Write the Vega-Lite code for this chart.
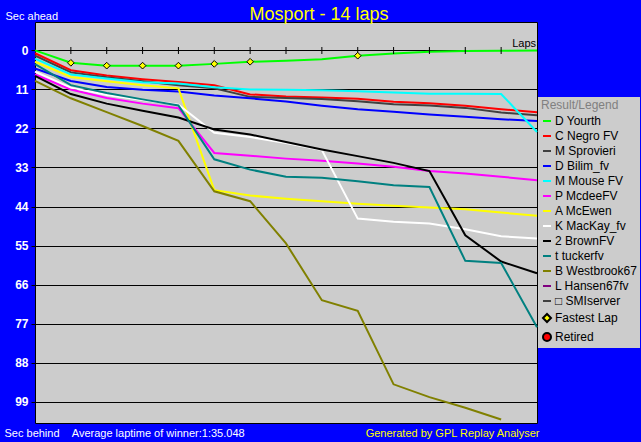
{
  "$schema": "https://vega.github.io/schema/vega-lite/v6.json",
  "width": 502,
  "height": 401,
  "autosize": {"type": "none"},
  "padding": {"left": 35, "top": 22, "right": 104, "bottom": 19},
  "background": "#0000FF",
  "title": {"text": "Mosport - 14 laps", "frame": "group", "anchor": "middle", "dx": 33, "dy": 30, "offset": 2, "baseline": "alphabetic", "color": "#FFFF00", "font": "Liberation Sans", "fontSize": 18, "fontWeight": "normal"},
  "config": {"view": {"fill": "#CCCCCC", "stroke": "#000000", "strokeWidth": 1}, "font": "Liberation Sans"},
  "datasets": {
    "race": [
      {"lap": 0, "D Yourth": 0, "C Negro FV": 0.8, "M Sprovieri": 1.5, "D Bilim_fv": 5.1, "M Mouse FV": 2.3, "P McdeeFV": 6.8, "A McEwen": 3.2, "K MacKay_fv": 6.0, "2 BrownFV": 7.2, "t tuckerfv": 3.9, "B Westbrook67": 8.6},
      {"lap": 1, "D Yourth": 3.5, "C Negro FV": 5.6, "M Sprovieri": 6.2, "D Bilim_fv": 8.6, "M Mouse FV": 6.8, "P McdeeFV": 11.0, "A McEwen": 7.5, "K MacKay_fv": 10.5, "2 BrownFV": 12.3, "t tuckerfv": 9.8, "B Westbrook67": 13.5},
      {"lap": 2, "D Yourth": 4.3, "C Negro FV": 7.1, "M Sprovieri": 7.6, "D Bilim_fv": 10.3, "M Mouse FV": 7.9, "P McdeeFV": 13.4, "A McEwen": 8.7, "K MacKay_fv": 12.6, "2 BrownFV": 15.0, "t tuckerfv": 12.0, "B Westbrook67": 17.4},
      {"lap": 3, "D Yourth": 4.3, "C Negro FV": 8.1, "M Sprovieri": 8.7, "D Bilim_fv": 11.1, "M Mouse FV": 9.0, "P McdeeFV": 15.0, "A McEwen": 9.8, "K MacKay_fv": 14.0, "2 BrownFV": 17.0, "t tuckerfv": 13.8, "B Westbrook67": 21.3},
      {"lap": 4, "D Yourth": 4.3, "C Negro FV": 8.9, "M Sprovieri": 9.8, "D Bilim_fv": 11.6, "M Mouse FV": 9.3, "P McdeeFV": 16.3, "A McEwen": 10.7, "K MacKay_fv": 15.3, "2 BrownFV": 18.9, "t tuckerfv": 15.5, "B Westbrook67": 25.5},
      {"lap": 5, "D Yourth": 3.8, "C Negro FV": 9.8, "M Sprovieri": 10.7, "D Bilim_fv": 12.7, "M Mouse FV": 10.4, "P McdeeFV": 28.9, "A McEwen": 39.4, "K MacKay_fv": 23.2, "2 BrownFV": 22.3, "t tuckerfv": 30.7, "B Westbrook67": 39.7},
      {"lap": 6, "D Yourth": 3.2, "C Negro FV": 12.4, "M Sprovieri": 13.1, "D Bilim_fv": 13.5, "M Mouse FV": 11.0, "P McdeeFV": 29.7, "A McEwen": 40.9, "K MacKay_fv": 24.4, "2 BrownFV": 23.7, "t tuckerfv": 33.6, "B Westbrook67": 42.5},
      {"lap": 7, "D Yourth": 2.9, "C Negro FV": 13.0, "M Sprovieri": 13.4, "D Bilim_fv": 14.4, "M Mouse FV": 11.1, "P McdeeFV": 30.5, "A McEwen": 41.8, "K MacKay_fv": 26.1, "2 BrownFV": 25.8, "t tuckerfv": 35.6, "B Westbrook67": 54.4},
      {"lap": 8, "D Yourth": 2.5, "C Negro FV": 13.3, "M Sprovieri": 13.7, "D Bilim_fv": 15.6, "M Mouse FV": 11.2, "P McdeeFV": 31.1, "A McEwen": 42.5, "K MacKay_fv": 28.1, "2 BrownFV": 27.9, "t tuckerfv": 35.9, "B Westbrook67": 70.4},
      {"lap": 9, "D Yourth": 1.5, "C Negro FV": 13.6, "M Sprovieri": 14.3, "D Bilim_fv": 16.6, "M Mouse FV": 11.5, "P McdeeFV": 31.9, "A McEwen": 43.2, "K MacKay_fv": 47.4, "2 BrownFV": 29.8, "t tuckerfv": 36.9, "B Westbrook67": 73.4},
      {"lap": 10, "D Yourth": 0.85, "C Negro FV": 14.5, "M Sprovieri": 15.2, "D Bilim_fv": 17.3, "M Mouse FV": 11.9, "P McdeeFV": 32.8, "A McEwen": 43.8, "K MacKay_fv": 48.3, "2 BrownFV": 31.7, "t tuckerfv": 38.0, "B Westbrook67": 94.1},
      {"lap": 11, "D Yourth": 0.4, "C Negro FV": 14.9, "M Sprovieri": 15.5, "D Bilim_fv": 18.1, "M Mouse FV": 12.2, "P McdeeFV": 34.0, "A McEwen": 44.3, "K MacKay_fv": 48.8, "2 BrownFV": 34.0, "t tuckerfv": 38.5, "B Westbrook67": 97.7},
      {"lap": 12, "D Yourth": 0.2, "C Negro FV": 15.6, "M Sprovieri": 16.2, "D Bilim_fv": 18.7, "M Mouse FV": 12.2, "P McdeeFV": 34.7, "A McEwen": 44.8, "K MacKay_fv": 50.4, "2 BrownFV": 52.1, "t tuckerfv": 59.3, "B Westbrook67": 100.7},
      {"lap": 13, "D Yourth": 0.1, "C Negro FV": 16.6, "M Sprovieri": 17.5, "D Bilim_fv": 19.4, "M Mouse FV": 12.3, "P McdeeFV": 35.6, "A McEwen": 45.7, "K MacKay_fv": 52.4, "2 BrownFV": 59.5, "t tuckerfv": 59.9, "B Westbrook67": 104.0},
      {"lap": 14, "D Yourth": 0, "C Negro FV": 17.4, "M Sprovieri": 18.3, "D Bilim_fv": 19.9, "M Mouse FV": 23.0, "P McdeeFV": 36.6, "A McEwen": 46.6, "K MacKay_fv": 53.0, "2 BrownFV": 62.8, "t tuckerfv": 78.0, "B Westbrook67": null}
    ],
    "ticks": [{"lap": 1, "sec": 0}, {"lap": 2, "sec": 0}, {"lap": 3, "sec": 0}, {"lap": 4, "sec": 0}, {"lap": 5, "sec": 0}, {"lap": 6, "sec": 0}, {"lap": 7, "sec": 0}, {"lap": 8, "sec": 0}, {"lap": 9, "sec": 0}, {"lap": 10, "sec": 0}, {"lap": 11, "sec": 0}, {"lap": 12, "sec": 0}, {"lap": 13, "sec": 0}],
    "fastest": [
      {"lap": 1, "sec": 3.5, "driver": "Fastest Lap"},
      {"lap": 2, "sec": 4.3, "driver": "Fastest Lap"},
      {"lap": 3, "sec": 4.3, "driver": "Fastest Lap"},
      {"lap": 4, "sec": 4.3, "driver": "Fastest Lap"},
      {"lap": 5, "sec": 3.8, "driver": "Fastest Lap"},
      {"lap": 6, "sec": 3.2, "driver": "Fastest Lap"},
      {"lap": 9, "sec": 1.5, "driver": "Fastest Lap"}
    ],
    "note": [{"lap": 14, "sec": 0, "label": "Laps"}]
  },
  "layer": [
    {
      "data": {"name": "race"},
      "transform": [{"fold": ["D Yourth", "C Negro FV", "M Sprovieri", "D Bilim_fv", "M Mouse FV", "P McdeeFV", "A McEwen", "K MacKay_fv", "2 BrownFV", "t tuckerfv", "B Westbrook67"], "as": ["driver", "sec"]}],
      "mark": {"type": "line", "strokeWidth": 2},
      "encoding": {
        "x": {"field": "lap", "type": "quantitative", "scale": {"domain": [0, 14], "nice": false, "zero": false},
          "axis": {"orient": "bottom", "labels": false, "ticks": false, "domain": false, "grid": false,
            "title": "Sec behind\u00a0\u00a0\u00a0\u00a0Average laptime of winner:1:35.048",
            "titleX": -31, "titleY": 13, "titleAlign": "left", "titleAnchor": "start", "titleBaseline": "alphabetic",
            "titleColor": "#FFFFFF", "titleFont": "Liberation Sans", "titleFontSize": 11, "titleFontWeight": "normal"}},
        "y": {"field": "sec", "type": "quantitative", "scale": {"domain": [-8, 105], "reverse": true, "nice": false, "zero": false},
          "axis": {"orient": "left", "values": [0, 11, 22, 33, 44, 55, 66, 77, 88, 99], "grid": true, "gridColor": "#000000", "gridWidth": 1, "gridOpacity": 1,
            "domain": false, "ticks": true, "tickColor": "#000000", "tickSize": 4, "tickWidth": 1,
            "labelColor": "#FFFFFF", "labelFont": "Liberation Sans", "labelFontSize": 12, "labelFontWeight": "bold", "labelPadding": 3,
            "title": "Sec ahead", "titleAngle": 0, "titleX": -30, "titleY": -3, "titleAlign": "left", "titleBaseline": "alphabetic",
            "titleColor": "#FFFFFF", "titleFont": "Liberation Sans", "titleFontSize": 11, "titleFontWeight": "normal"}},
        "color": {"field": "driver", "type": "nominal", "legend": null,
          "scale": {
            "domain": ["D Yourth", "C Negro FV", "M Sprovieri", "D Bilim_fv", "M Mouse FV", "P McdeeFV", "A McEwen", "K MacKay_fv", "2 BrownFV", "t tuckerfv", "B Westbrook67", "L Hansen67fv", "\u25a1 SMIserver"],
            "range": ["#00FF00", "#FF0000", "#404040", "#0000FF", "#00FFFF", "#FF00FF", "#FFFF00", "#FFFFFF", "#000000", "#008080", "#808000", "#800080", "#404040"]
          }
        }
      }
    },
    {
      "data": {"name": "ticks"},
      "mark": {"type": "tick", "orient": "vertical", "size": 7, "thickness": 1, "color": "#000000", "opacity": 1},
      "encoding": {
        "x": {"field": "lap", "type": "quantitative"},
        "y": {"field": "sec", "type": "quantitative",
          "axis": {"orient": "right", "labels": false, "ticks": false, "domain": false, "grid": false,
            "title": "Generated by GPL Replay Analyser", "titleAngle": 0, "titleX": 2, "titleY": 414, "titleAlign": "right", "titleBaseline": "alphabetic",
            "titleColor": "#FFFF00", "titleFont": "Liberation Sans", "titleFontSize": 11, "titleFontWeight": "normal"}}
      }
    },
    {
      "data": {"name": "fastest"},
      "mark": {"type": "point", "filled": true, "size": 45, "strokeWidth": 1, "opacity": 1},
      "encoding": {
        "x": {"field": "lap", "type": "quantitative"},
        "y": {"field": "sec", "type": "quantitative", "axis": null},
        "fill": {"field": "driver", "type": "nominal",
          "scale": {
            "domain": ["D Yourth", "C Negro FV", "M Sprovieri", "D Bilim_fv", "M Mouse FV", "P McdeeFV", "A McEwen", "K MacKay_fv", "2 BrownFV", "t tuckerfv", "B Westbrook67", "L Hansen67fv", "\u25a1 SMIserver", "Fastest Lap", "Retired"],
            "range": ["#00FF00", "#FF0000", "#404040", "#0000FF", "#00FFFF", "#FF00FF", "#FFFF00", "#FFFFFF", "#000000", "#008080", "#808000", "#800080", "#404040", "#FFFF00", "#FF0000"]
          },
          "legend": {
            "title": "Result/Legend", "orient": "none", "legendX": 503, "legendY": 75,
            "fillColor": "#CCCCCC", "padding": 3,
            "titleColor": "#808080", "titleFont": "Liberation Sans", "titleFontSize": 12, "titleFontWeight": "normal", "titlePadding": 3,
            "labelColor": "#000000", "labelFont": "Liberation Sans", "labelFontSize": 12, "labelOffset": 2, "labelLimit": 200,
            "symbolSize": 64, "symbolStrokeWidth": 2, "rowPadding": 3, "symbolOpacity": 1
          }
        },
        "stroke": {"field": "driver", "type": "nominal",
          "scale": {
            "domain": ["D Yourth", "C Negro FV", "M Sprovieri", "D Bilim_fv", "M Mouse FV", "P McdeeFV", "A McEwen", "K MacKay_fv", "2 BrownFV", "t tuckerfv", "B Westbrook67", "L Hansen67fv", "\u25a1 SMIserver", "Fastest Lap", "Retired"],
            "range": ["#00FF00", "#FF0000", "#404040", "#0000FF", "#00FFFF", "#FF00FF", "#FFFF00", "#FFFFFF", "#000000", "#008080", "#808000", "#800080", "#404040", "#000000", "#000000"]
          }
        },
        "shape": {"field": "driver", "type": "nominal",
          "scale": {
            "domain": ["D Yourth", "C Negro FV", "M Sprovieri", "D Bilim_fv", "M Mouse FV", "P McdeeFV", "A McEwen", "K MacKay_fv", "2 BrownFV", "t tuckerfv", "B Westbrook67", "L Hansen67fv", "\u25a1 SMIserver", "Fastest Lap", "Retired"],
            "range": ["stroke", "stroke", "stroke", "stroke", "stroke", "stroke", "stroke", "stroke", "stroke", "stroke", "stroke", "stroke", "stroke", "diamond", "circle"]
          }
        }
      }
    },
    {
      "data": {"name": "note"},
      "mark": {"type": "text", "align": "right", "baseline": "alphabetic", "dy": -3, "dx": -1, "fontSize": 11, "color": "#000000", "font": "Liberation Sans"},
      "encoding": {
        "x": {"field": "lap", "type": "quantitative"},
        "y": {"field": "sec", "type": "quantitative", "axis": null},
        "text": {"field": "label"}
      }
    }
  ],
  "resolve": {"axis": {"y": "independent"}}
}
